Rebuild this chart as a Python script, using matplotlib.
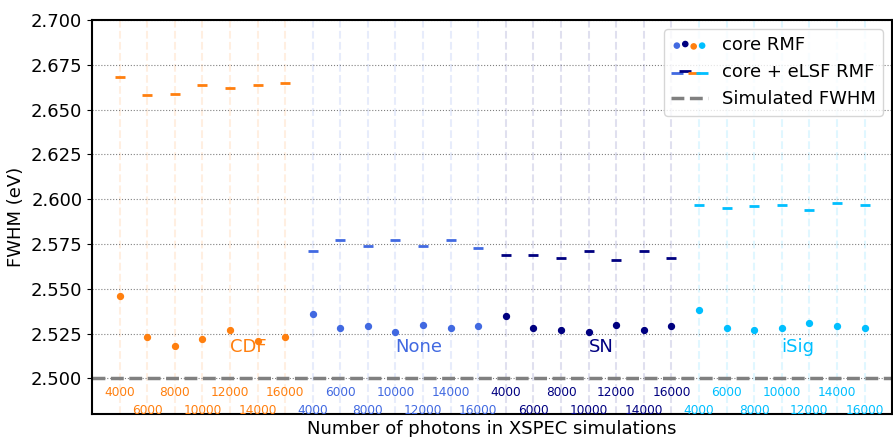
import numpy as np
import matplotlib
matplotlib.use("Agg")
import matplotlib.pyplot as plt

# photon counts used in every method group
photons = [4000, 6000, 8000, 10000, 12000, 14000, 16000]
methods = ["CDF", "None", "SN", "iSig"]
method_colors = ["tab:orange", "royalblue", "navy", "deepskyblue"]
label_x = [4, 10, 17, 24]

# FWHM (eV) fitted with the core RMF only
core_cdf = [2.546, 2.523, 2.518, 2.522, 2.527, 2.521, 2.523]
core_none = [2.536, 2.528, 2.529, 2.526, 2.530, 2.528, 2.529]
core_sn = [2.535, 2.528, 2.527, 2.526, 2.530, 2.527, 2.529]
core_isig = [2.538, 2.528, 2.527, 2.528, 2.531, 2.529, 2.528]

# FWHM (eV) fitted with the core + eLSF RMF
elsf_cdf = [2.668, 2.658, 2.659, 2.664, 2.662, 2.664, 2.665]
elsf_none = [2.571, 2.577, 2.574, 2.577, 2.574, 2.577, 2.573]
elsf_sn = [2.569, 2.569, 2.567, 2.571, 2.566, 2.571, 2.567]
elsf_isig = [2.597, 2.595, 2.596, 2.597, 2.594, 2.598, 2.597]

sim_fwhm = 2.5

core = [core_cdf, core_none, core_sn, core_isig]
elsf = [elsf_cdf, elsf_none, elsf_sn, elsf_isig]

plt.rcParams["font.size"] = 13
fig = plt.figure(figsize=(8.93, 4.37), dpi=100)
ax = fig.add_axes([0.103, 0.052, 0.896, 0.902])

n = len(photons)
for g, (name, col) in enumerate(zip(methods, method_colors)):
    xs = np.arange(n) + g * n
    for x in xs:
        ax.axvline(x, color=col, ls="--", lw=1.5, alpha=0.12, zorder=0)
    ax.scatter(xs, core[g], s=18, color=col, zorder=3)
    ax.scatter(xs, elsf[g], s=60, marker="_", linewidths=2, color=col, zorder=3)
    # labels alternate between two rows so they don't collide
    for x, p in zip(xs, photons):
        ax.text(x, 2.49 if x % 2 == 0 else 2.4803, str(p), color=col,
                fontsize=8.7, ha="center", va="baseline")
    ax.text(label_x[g], 2.515, name, color=col, fontsize=13, ha="left", va="baseline")

ax.axhline(sim_fwhm, color="gray", ls="--", lw=2.5, zorder=2, label="Simulated FWHM")

# legend entries with one colour per method
leg_order = [1, 2, 0, 3]
h1 = ax.scatter([], [], s=14, marker="o", label="core RMF")
h1.set_facecolor([method_colors[i] for i in leg_order])
h2 = ax.scatter([], [], s=70, marker="_", linewidths=2, label="core + eLSF RMF")
h2.set_edgecolor([method_colors[i] for i in leg_order])
h3 = ax.get_lines()[-1]
ax.legend(handles=[h1, h2, h3], loc="upper right", scatterpoints=4, fontsize=13)

ax.set_xlim(-1, 4 * n)
ax.set_ylim(2.48, 2.70)
ax.set_xticks([])
ax.set_yticks(np.arange(2.5, 2.7001, 0.025))
ax.yaxis.set_major_formatter(plt.FormatStrFormatter("%.3f"))
ax.yaxis.grid(True, ls=":", color="gray", lw=0.8)
ax.set_axisbelow(True)
ax.set_xlabel("Number of photons in XSPEC simulations", labelpad=4)
ax.set_ylabel("FWHM (eV)")
for s in ax.spines.values():
    s.set_linewidth(1.5)

fig.savefig("out.png", dpi=100)
